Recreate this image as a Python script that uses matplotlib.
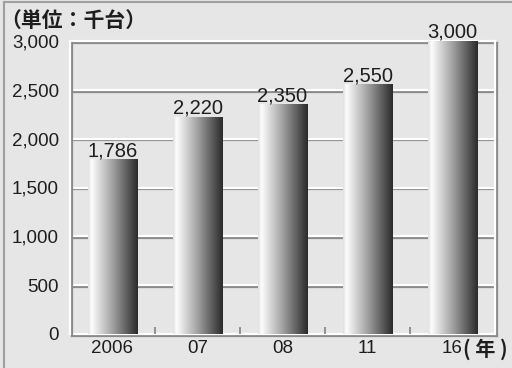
import matplotlib
matplotlib.use('Agg')
import matplotlib.pyplot as plt
import matplotlib.patheffects as pe
from matplotlib.colors import LinearSegmentedColormap
from matplotlib.lines import Line2D
import numpy as np

years = ['2006', '07', '08', '11', '16']
values = [1786, 2220, 2350, 2550, 3000]
y_ticks = [0, 500, 1000, 1500, 2000, 2500, 3000]

bg = '#e6e6e6'
plt.rcParams['font.family'] = ['Liberation Sans', 'DejaVu Sans']

fig = plt.figure(figsize=(5.12, 3.68), dpi=100, facecolor=bg)
ax = fig.add_axes([70 / 512, 1 - 334 / 368, 425 / 512, 293 / 368])
ax.set_facecolor(bg)
for s in ax.spines.values():
    s.set_visible(False)

# white grid lines with a grey shadow
shadow = [pe.SimpleLineShadow(offset=(1.2, -1.2), shadow_color='#8a8a8a', alpha=1), pe.Normal()]
for t in y_ticks:
    ax.axhline(t, color='white', lw=1.6, zorder=1, clip_on=False, path_effects=shadow)
for xv in (-0.5, len(years) - 0.5):
    ax.axvline(xv, color='white', lw=1.6, zorder=1, clip_on=False, path_effects=shadow)

# gradient bars
cmap = LinearSegmentedColormap.from_list('bar', [(0, '#e0e0e0'), (0.07, '#fdfdfd'),
                                                 (0.5, '#a0a0a0'), (1, '#2a2a2a')])
grad = np.linspace(0, 1, 256).reshape(1, -1)
w = 0.58
x = np.arange(len(years))
for xi, v in zip(x, values):
    ax.imshow(grad, cmap=cmap, extent=(xi - w / 2, xi + w / 2, 0, v), aspect='auto',
              zorder=3, interpolation='bilinear')
    ax.annotate(f'{v:,}', (xi, v), xytext=(0, 2.5), textcoords='offset points',
                ha='center', va='baseline', fontsize=14.5, color='#1e1e1e', zorder=4)
ax.set_xlim(-0.5, len(years) - 0.5)
ax.set_ylim(0, 3000)

ax.set_yticks(y_ticks)
ax.set_yticklabels([f'{t:,}' for t in y_ticks], fontsize=13.5, color='#1e1e1e')
ax.set_xticks(x)
ax.set_xticklabels(years, fontsize=13.5, color='#1e1e1e')
ax.set_xticks(x[:-1] + 0.5, minor=True)
ax.tick_params(axis='both', which='major', length=0)
ax.tick_params(axis='y', pad=8)
ax.tick_params(axis='x', pad=4)
ax.tick_params(axis='x', which='minor', direction='in', length=5, width=1.3, color='#8a8a8a')

cjk = ['Noto Sans CJK JP', 'DejaVu Sans']
fig.text(0, 1 - 20 / 368, '（単位：千台）', fontsize=15, fontweight='bold',
         family=cjk, ha='left', va='center', color='#1e1e1e')
fig.text(463 / 512, 1 - 349 / 368, '( 年 )', fontsize=14.5, fontweight='bold',
         family=cjk, ha='left', va='center', color='#1e1e1e')

# outer frame (left and top)
fig.add_artist(Line2D([4 / 512, 4 / 512], [0, 1 - 2 / 368], transform=fig.transFigure,
                      color='#a0a0a0', lw=1.5))
fig.add_artist(Line2D([4 / 512, 1], [1 - 2 / 368, 1 - 2 / 368], transform=fig.transFigure,
                      color='#a0a0a0', lw=1.5))

fig.savefig('out.png', dpi=100, facecolor=bg)
